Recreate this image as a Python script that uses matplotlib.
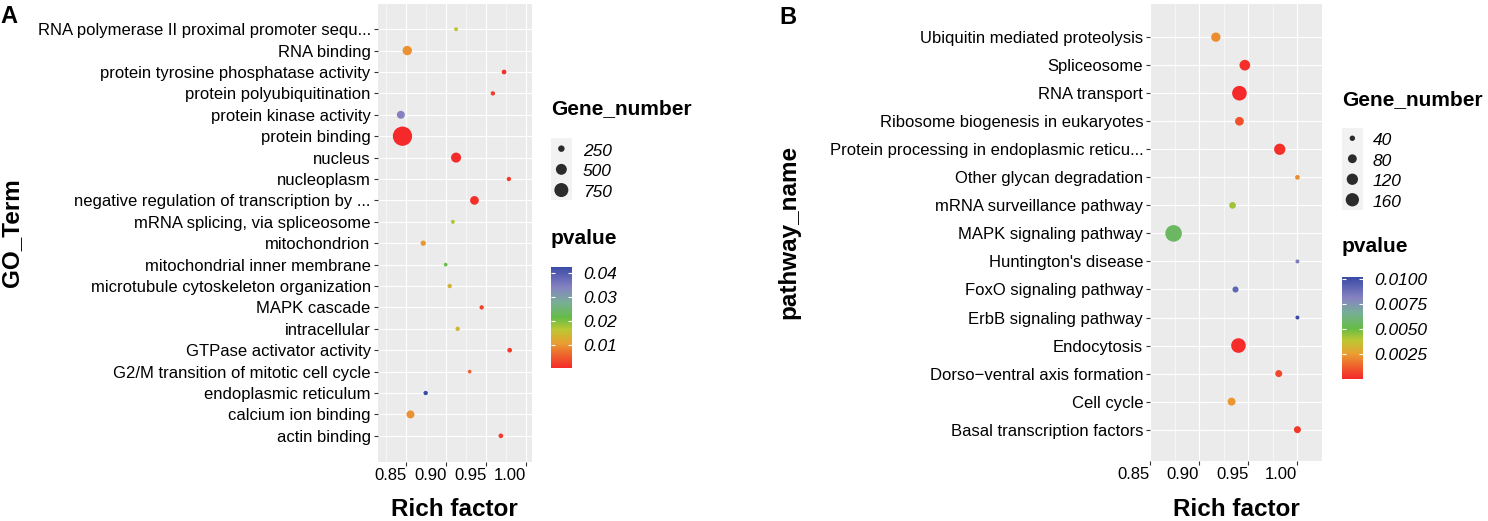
import numpy as np
import matplotlib
matplotlib.use("Agg")
import matplotlib.pyplot as plt
from matplotlib.colors import LinearSegmentedColormap, Normalize
from matplotlib.cm import ScalarMappable
from matplotlib.patches import Rectangle

plt.rcParams['font.family'] = ['Liberation Sans', 'DejaVu Sans']

# ---- Panel A: GO terms (top to bottom)
go_terms = ["RNA polymerase II proximal promoter sequ...", "RNA binding",
            "protein tyrosine phosphatase activity", "protein polyubiquitination",
            "protein kinase activity", "protein binding", "nucleus", "nucleoplasm",
            "negative regulation of transcription by ...", "mRNA splicing, via spliceosome",
            "mitochondrion", "mitochondrial inner membrane",
            "microtubule cytoskeleton organization", "MAPK cascade", "intracellular",
            "GTPase activator activity", "G2/M transition of mitotic cell cycle",
            "endoplasmic reticulum", "calcium ion binding", "actin binding"]
go_rich = [0.912, 0.851, 0.972, 0.958, 0.843, 0.845, 0.912, 0.978, 0.935, 0.908,
           0.871, 0.899, 0.904, 0.944, 0.914, 0.979, 0.929, 0.874, 0.855, 0.968]
go_genes = [165, 400, 185, 175, 320, 1320, 440, 175, 360, 166,
            205, 158, 175, 175, 175, 185, 158, 175, 320, 185]
go_pval = [0.016, 0.0095, 0.001, 0.002, 0.034, 0.0002, 0.0005, 0.002, 0.001, 0.017,
           0.010, 0.0215, 0.0138, 0.003, 0.014, 0.002, 0.0054, 0.0425, 0.0095, 0.002]
go_size_breaks = [250, 500, 750]
go_p_ticks = [0.01, 0.02, 0.03, 0.04]

# ---- Panel B: KEGG pathways (top to bottom)
kegg_terms = ["Ubiquitin mediated proteolysis", "Spliceosome", "RNA transport",
              "Ribosome biogenesis in eukaryotes", "Protein processing in endoplasmic reticu...",
              "Other glycan degradation", "mRNA surveillance pathway", "MAPK signaling pathway",
              "Huntington's disease", "FoxO signaling pathway", "ErbB signaling pathway",
              "Endocytosis", "Dorso\u2212ventral axis formation", "Cell cycle",
              "Basal transcription factors"]
kegg_rich = [0.917, 0.9465, 0.941, 0.941, 0.982, 1.0, 0.934, 0.874,
             1.0, 0.937, 1.0, 0.940, 0.981, 0.933, 1.0]
kegg_genes = [87, 109, 190, 78, 120, 34, 53, 240, 29, 46, 29, 190, 56, 68, 56]
kegg_pval = [0.0022, 0.0002, 0.00002, 0.0009, 0.0002, 0.0022, 0.0043, 0.0056,
             0.0084, 0.0092, 0.0102, 0.0001, 0.0007, 0.0024, 0.0003]
kegg_size_breaks = [40, 80, 120, 160]
kegg_p_ticks = [0.0025, 0.005, 0.0075, 0.01]

x_ticks = [0.85, 0.90, 0.95, 1.00]

# colour gradient red -> orange -> green -> purple -> blue
cmap = LinearSegmentedColormap.from_list("pv", list(zip(
    [0.0, 0.12, 0.25, 0.38, 0.5, 0.65, 0.8, 1.0],
    ['#F5282A', '#EE5F2C', '#E9A032', '#BCC733', '#66BC47', '#78AE97', '#8682C2', '#3A4BA6'])))

W, H = 1488, 521
fig = plt.figure(figsize=(W / 100, H / 100), dpi=100)


def px(left, top, right, bottom):
    return [left / W, 1 - bottom / H, (right - left) / W, (bottom - top) / H]


def size_go(n):
    d = np.sqrt(np.clip(-35 + 0.308 * np.asarray(n, float), 1, None))
    return (d * 0.72) ** 2


def size_kegg(n):
    d = np.sqrt(np.clip(-20 + 1.23 * np.asarray(n, float), 1, None))
    return (d * 0.72) ** 2


def panel(rect, terms, rich, genes, pval, sizefn, xlim, minor, ypad):
    ax = fig.add_axes(rect)
    ax.set_facecolor('#EBEBEB')
    y = np.arange(len(terms))
    norm = Normalize(min(pval), max(pval))
    ax.scatter(rich, y, s=sizefn(genes), c=pval, cmap=cmap, norm=norm,
               linewidths=0, zorder=3)
    ax.set_yticks(y)
    ax.set_yticklabels(terms)
    ax.set_ylim(len(terms) - 1 + ypad[1], -ypad[0])
    ax.set_xlim(xlim)
    ax.set_xticks(x_ticks)
    ax.set_xticklabels(["%.2f" % v for v in x_ticks], ha='right')
    ax.set_xticks(minor, minor=True)
    ax.set_axisbelow(True)
    ax.grid(which='major', color='white', lw=0.8)
    ax.grid(which='minor', axis='x', color='white', lw=0.4)
    for s in ax.spines.values():
        s.set_visible(False)
    ax.tick_params(which='major', length=2.75, width=0.8, color='#333333',
                   labelsize=12, labelcolor='black', pad=2.2)
    ax.tick_params(which='minor', length=0)
    return norm


def size_legend(title, breaks, sizefn, left, title_y, key_top, key_h, lab_x):
    fig.text(left / W, 1 - title_y / H, title, fontsize=15, fontweight='bold',
             ha='left', va='center')
    n = len(breaks)
    lax = fig.add_axes(px(left, key_top, left + 20.7, key_top + key_h * n))
    lax.set_xlim(0, 1)
    lax.set_ylim(n, 0)
    lax.axis('off')
    lax.add_patch(Rectangle((0, 0), 1, n, facecolor='#F2F2F2', edgecolor='none'))
    lax.scatter(np.full(n, 0.5), np.arange(n) + 0.5, s=sizefn(breaks),
                color='#2B2B2B', linewidths=0, clip_on=False)
    for i, b in enumerate(breaks):
        lax.text((lab_x - left) / 20.7, i + 0.62, str(b), transform=lax.get_yaxis_transform(),
                 fontsize=12.5, fontstyle='italic', va='center', ha='left')


def color_legend(norm, ticks, fmt, left, title_y, top, bottom):
    fig.text(left / W, 1 - title_y / H, "pvalue", fontsize=15, fontweight='bold',
             ha='left', va='center')
    cax = fig.add_axes(px(left, top, left + 20.7, bottom))
    cb = fig.colorbar(ScalarMappable(norm=norm, cmap=cmap), cax=cax, ticks=ticks)
    cb.outline.set_visible(False)
    cb.set_ticklabels([fmt % t for t in ticks])
    cax.yaxis.set_ticks_position('both')
    cax.tick_params(left=True, right=True, labelleft=False, labelright=True,
                    direction='in', length=3, width=0.8, color='white',
                    labelsize=12.5, pad=8)
    for t in cax.get_yticklabels():
        t.set_fontstyle('italic')


# Panel A
normA = panel(px(377.5, 3.5, 531.5, 461.5), go_terms, go_rich, go_genes, go_pval,
              size_go, (0.8138, 1.0063), [0.825, 0.875, 0.925, 0.975], (1.2, 1.2))
size_legend("Gene_number", go_size_breaks, size_go, 551, 109, 138.3, 20.7, 583)
color_legend(normA, go_p_ticks, "%.2f", 551, 238, 266.7, 368.3)

# Panel B
normB = panel(px(1150, 3.5, 1322, 460.5), kegg_terms, kegg_rich, kegg_genes, kegg_pval,
              size_kegg, (0.85, 1.0246), [0.875, 0.925, 0.975, 1.025], (1.2, 1.1))
size_legend("Gene_number", kegg_size_breaks, size_kegg, 1342, 100, 128, 20.5, 1373)
color_legend(normB, kegg_p_ticks, "%.4f", 1342, 246.7, 277.3, 379)

# axis titles and panel tags
fig.text(12 / W, 1 - 232.5 / H, "GO_Term", rotation=90, fontsize=17.5,
         fontweight='bold', ha='center', va='center')
fig.text(789 / W, 1 - 232 / H, "pathway_name", rotation=90, fontsize=17.5,
         fontweight='bold', ha='center', va='center')
fig.text(454.5 / W, 1 - 516 / H, "Rich factor", fontsize=17.5, fontweight='bold',
         ha='center', va='baseline')
fig.text(1236 / W, 1 - 516 / H, "Rich factor", fontsize=17.5, fontweight='bold',
         ha='center', va='baseline')
fig.text(0.5 / W, 1 - 23.3 / H, "A", fontsize=17, fontweight='bold', ha='left', va='baseline')
fig.text(779 / W, 1 - 24 / H, "B", fontsize=17, fontweight='bold', ha='left', va='baseline')

fig.savefig("out.png", dpi=100)
